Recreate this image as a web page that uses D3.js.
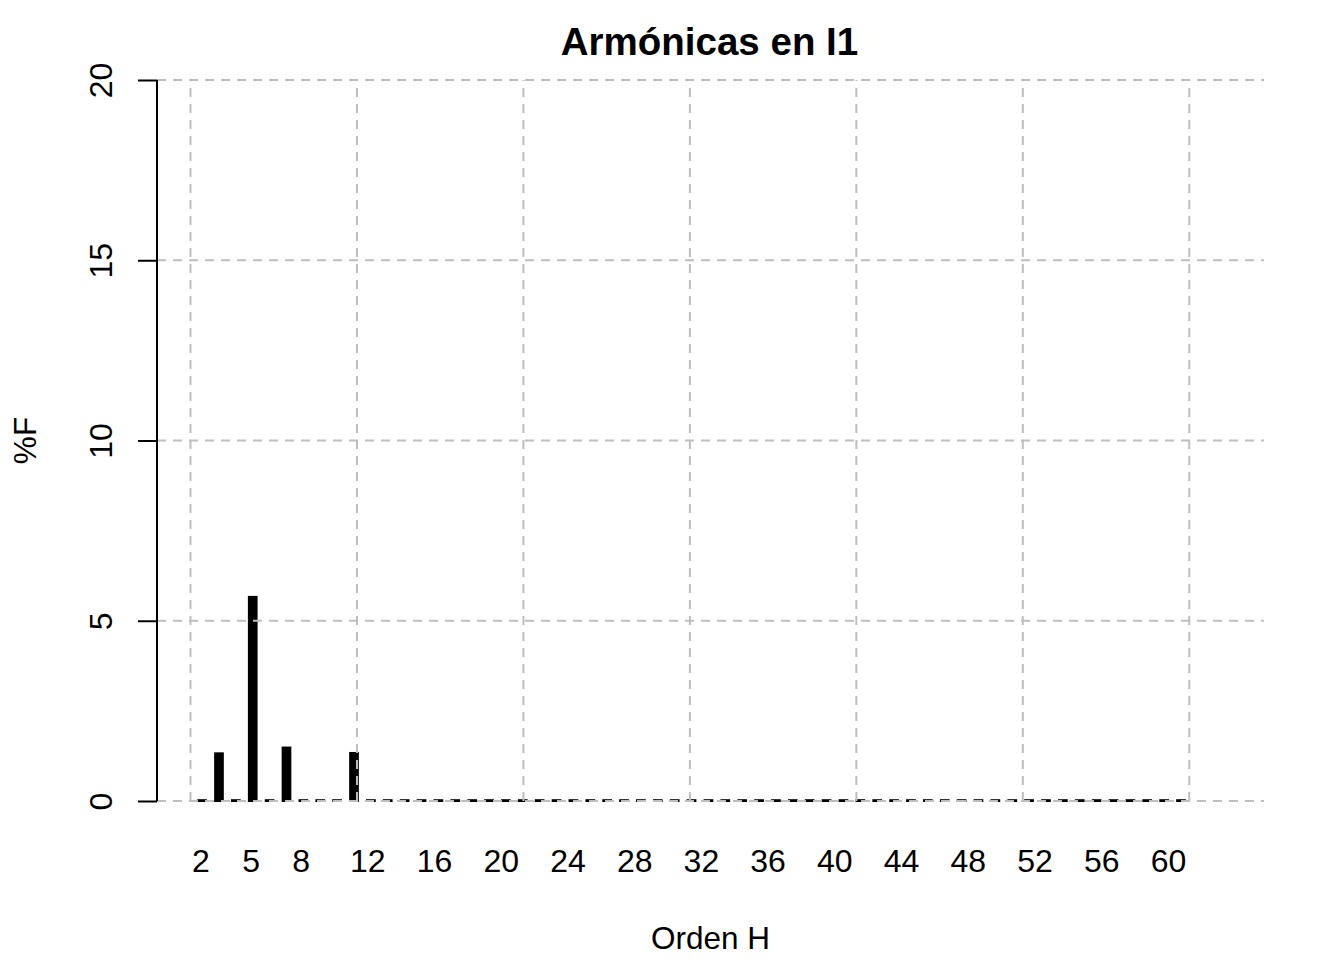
<!DOCTYPE html>
<html><head><meta charset="utf-8">
<script src="https://cdn.jsdelivr.net/npm/d3@7"></script>
<style>html,body{margin:0;padding:0;background:#fff;}svg{display:block;font-family:"Liberation Sans",Arial,sans-serif;}</style>
</head><body>
<svg id="chart" width="1344" height="960"></svg>
<script>
// Data
const harmonics = d3.range(2, 61); // orden 2..60
const values = [0.05,1.35,0.05,5.69,0.05,1.51,0.05,0.05,0.05,1.36,
  0.05,0.05,0.05,0.05,0.05,0.05,0.05,0.05,0.05,0.05,
  0.05,0.05,0.05,0.05,0.05,0.05,0.05,0.05,0.05,0.05,
  0.05,0.05,0.05,0.05,0.05,0.05,0.05,0.05,0.05,0.05,
  0.05,0.05,0.05,0.05,0.05,0.05,0.05,0.05,0.05,0.05,
  0.05,0.05,0.05,0.05,0.05,0.05,0.05,0.05,0.05];
const xTickLabels = [2,5,8,12,16,20,24,28,32,36,40,44,48,52,56,60];
const yTicks = [0,5,10,15,20];
const xGrid = [1.37,11.35,21.33,31.31,41.29,51.27,61.25];
const title = "Armónicas en I1";
const xLabel = "Orden H";
const yLabel = "%F";

const svg = d3.select("#chart");
const L = 157, R = 1264, T = 80, B = 801;

const xAxisScale = d3.scaleLinear().domain([-0.638, 65.73]).range([L, R]);
const xBar = d3.scaleLinear().domain([2, 60]).range([202.1, 1181]);
const y = d3.scaleLinear().domain([0, 20]).range([B, T]);
const barW = 9.7;

// bars
svg.append("g").selectAll("rect").data(harmonics).join("rect")
  .attr("x", (d) => xBar(d) - barW/2)
  .attr("y", (d,i) => y(values[i]))
  .attr("width", barW)
  .attr("height", (d,i) => y(0) - y(values[i]) + 1)
  .attr("fill", "#000");

// grid
const grid = svg.append("g").attr("stroke", "#bebebe").attr("stroke-width", 2).attr("stroke-dasharray", "9,7");
grid.selectAll("line.h").data(yTicks).join("line").attr("class","h")
  .attr("x1", L).attr("x2", R).attr("y1", d => y(d)).attr("y2", d => y(d));
grid.selectAll("line.v").data(xGrid).join("line").attr("class","v")
  .attr("x1", d => xAxisScale(d)).attr("x2", d => xAxisScale(d)).attr("y1", B).attr("y2", T);

// y axis
const yAxis = d3.axisLeft(y).tickValues(yTicks).tickSize(19).tickPadding(0).tickFormat(d3.format("d"));
const gy = svg.append("g").attr("transform", `translate(${L},0)`).call(yAxis);
gy.select(".domain").attr("d", `M0,${y(0)}V${y(20)}`).attr("stroke", "#000").attr("stroke-width", 2);
gy.selectAll(".tick line").attr("stroke", "#000").attr("stroke-width", 2);
gy.selectAll(".tick text").attr("transform", null).attr("x", null).attr("dy", null)
  .attr("font-size", 32).attr("fill", "#000")
  .attr("text-anchor", "middle")
  .attr("transform", "translate(-45,0) rotate(-90)")
  .attr("y", 0);

// x tick labels (no axis line)
const gx = svg.append("g");
gx.selectAll("text").data(xTickLabels).join("text")
  .attr("x", d => xAxisScale(d)).attr("y", 872)
  .attr("text-anchor", "middle").attr("font-size", 32).attr("fill", "#000")
  .text(d => d);

// titles
svg.append("text").attr("x", (L+R)/2 - 1).attr("y", 55).attr("text-anchor","middle")
  .attr("font-size", 38.5).attr("font-weight","bold").text(title);
svg.append("text").attr("x", (L+R)/2).attr("y", 949).attr("text-anchor","middle")
  .attr("font-size", 31.5).text(xLabel);
svg.append("text").attr("transform", `translate(36,${(T+B)/2}) rotate(-90)`).attr("text-anchor","middle")
  .attr("font-size", 31.5).text(yLabel);
</script>
</body></html>
